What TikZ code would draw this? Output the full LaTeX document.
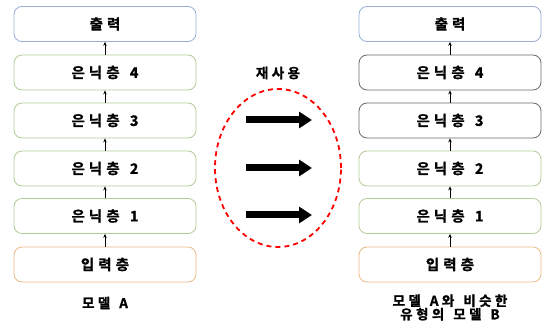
\documentclass[tikz,border=0pt]{standalone}
\usepackage{fontspec}
\setmainfont{Noto Sans CJK KR}
\newfontfamily\kb{Noto Sans CJK KR Bold}[LetterSpace=28,FakeBold=1.2,WordSpace=1.4]
\newfontfamily\kl{Noto Sans CJK KR Bold}[LetterSpace=25,FakeBold=1.2,WordSpace=1.4]
\usetikzlibrary{arrows.meta,shapes.geometric}
\definecolor{bOut}{HTML}{98ACD4}
\definecolor{bHid}{HTML}{B3CB96}
\definecolor{bIn}{HTML}{EBB987}
\definecolor{bDark}{HTML}{6A6A6A}
\tikzset{
  layer/.style={draw, rounded corners=8pt, minimum width=182pt, minimum height=35pt, font=\kb\fontsize{14.5}{16}\selectfont, line width=0.8pt, inner sep=0pt},
  up/.style={-{Stealth[length=4pt,width=3.5pt]}, line width=0.8pt},
  big/.style={-{Triangle[length=13pt,width=16pt]}, line width=7pt},
  lbl/.style={font=\kl\fontsize{13.5}{13.5}\selectfont, align=center}
}
\begin{document}
\begin{tikzpicture}[x=1pt,y=-1pt]
\useasboundingbox (0,0) rectangle (547,326);
% left column
\node[layer, draw=bOut] (aout) at (105,24) {출력};
\node[layer, draw=bHid] (a4) at (105,72.5) {은닉층 4};
\node[layer, draw=bHid] (a3) at (105,120.5) {은닉층 3};
\node[layer, draw=bHid] (a2) at (105,168.5) {은닉층 2};
\node[layer, draw=bHid] (a1) at (105,216) {은닉층 1};
\node[layer, draw=bIn] (ain) at (105,264.5) {입력층};
\foreach \s/\t in {ain/a1,a1/a2,a2/a3,a3/a4,a4/aout} \draw[up] (\s.north) -- (\t.south);
\node[lbl] (la) at (105,303) {모델 A};
% right column
\node[layer, draw=bOut] (bout) at (450,24) {출력};
\node[layer, draw=bDark] (b4) at (450,72.5) {은닉층 4};
\node[layer, draw=bDark] (b3) at (450,120.5) {은닉층 3};
\node[layer, draw=bHid] (b2) at (450,168.5) {은닉층 2};
\node[layer, draw=bHid] (b1) at (450,216) {은닉층 1};
\node[layer, draw=bIn] (bin) at (450,264.5) {입력층};
\foreach \s/\t in {bin/b1,b1/b2,b2/b3,b3/b4,b4/bout} \draw[up] (\s.north) -- (\t.south);
\node[lbl] (lb) at (450,307.5) {모델 A와 비슷한\\유형의 모델 B};
% middle
\node[lbl] (reuse) at (278,73) {재사용};
\node[draw=red, line width=1.8pt, dash pattern=on 5pt off 4pt, ellipse, minimum width=126pt, minimum height=158pt] (ell) at (278,168) {};
\coordinate (s1) at (246,120); \coordinate (e1) at (312,120);
\coordinate (s2) at (246,168); \coordinate (e2) at (312,168);
\coordinate (s3) at (246,215); \coordinate (e3) at (312,215);
\draw[big] (s1) -- (e1);
\draw[big] (s2) -- (e2);
\draw[big] (s3) -- (e3);
\end{tikzpicture}
\end{document}
